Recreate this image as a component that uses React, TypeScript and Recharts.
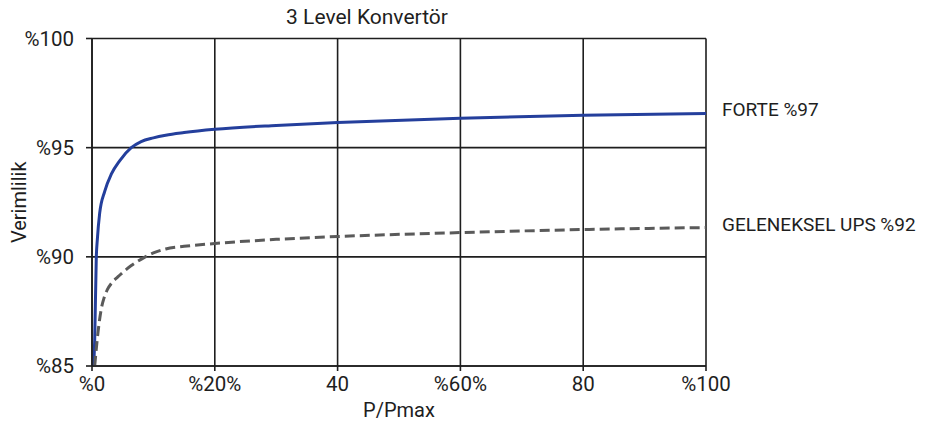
import React from 'react';
import { LineChart, Line, XAxis, YAxis, CartesianGrid, Customized } from 'recharts';

// x ticks and their (odd) labels as printed on the original
const xTicks = [0, 20, 40, 60, 80, 100];
const xTickLabels = ['%0', '%20%', '40', '%60%', '80', '%100'];
const yTicks = [85, 90, 95, 100];
const yTickLabels = ['%85', '%90', '%95', '%100'];

// FORTE (3 level) efficiency curve
const forteLoad = [0.28, 0.44, 0.7, 0.87, 1.25, 2.07, 3.16, 4.5, 6.4, 8, 10, 12, 15, 20, 30, 40, 60, 80, 100];
const forteEff = [85, 86.2, 90, 90.8, 92, 93.0, 93.8, 94.4, 95, 95.28, 95.45, 95.57, 95.69, 95.84, 96.02, 96.15, 96.35, 96.48, 96.57];

// conventional UPS curve
const upsLoad = [0.44, 1.0, 1.5, 2.0, 2.5, 3.2, 4.2, 6.4, 8.4, 10, 12, 15, 20, 30, 40, 60, 80, 100];
const upsEff = [85, 86.6, 87.6, 88.15, 88.5, 88.8, 89.08, 89.6, 89.95, 90.18, 90.36, 90.48, 90.61, 90.8, 90.93, 91.11, 91.25, 91.34];

const seriesNames = ['FORTE %97', 'GELENEKSEL UPS %92'];
const title = '3 Level Konvertör';

const forteData = forteLoad.map((x, i) => ({ x, y: forteEff[i] }));
const upsData = upsLoad.map((x, i) => ({ x, y: upsEff[i] }));

const FONT = 'Roboto, "Noto Sans", sans-serif';
const INK = '#1e1e1e';

const endLabel = (text: string, count: number) => (props: any) => {
  const { x, y, index } = props;
  if (index !== count - 1) return null;
  return (
    <text x={x + 16} y={y + 3} fontSize={19} fontFamily={FONT} fill={INK}>
      {text}
    </text>
  );
};

const Title = () => (
  <text x={367} y={24} textAnchor="middle" fontSize={21} fontFamily={FONT} fill={INK}>
    {title}
  </text>
);

export default function App() {
  return (
    <div style={{ position: 'absolute', left: 0, top: 0, width: 934, height: 423, background: '#fff' }}>
      <LineChart
        width={934}
        height={423}
        margin={{ top: 38.5, right: 228, bottom: 0, left: 0 }}
      >
        <CartesianGrid stroke={INK} strokeWidth={1.6} />
        <XAxis
          type="number"
          dataKey="x"
          domain={[0, 100]}
          ticks={xTicks}
          tickFormatter={(v: number) => xTickLabels[xTicks.indexOf(v)]}
          height={57}
          tickSize={5}
          tickMargin={5}
          stroke={INK}
          strokeWidth={1.6}
          tick={{ fill: INK, fontSize: 20.5, fontFamily: FONT }}
          allowDataOverflow
          label={{ value: 'P/Pmax', position: 'insideBottom', offset: 6, fill: INK, fontSize: 20, fontFamily: FONT }}
        />
        <YAxis
          type="number"
          domain={[85, 100]}
          ticks={yTicks}
          tickFormatter={(v: number) => yTickLabels[yTicks.indexOf(v)]}
          width={92}
          tickSize={6}
          tickMargin={12}
          stroke={INK}
          strokeWidth={1.6}
          tick={{ fill: INK, fontSize: 20.5, fontFamily: FONT }}
          allowDataOverflow
          label={{
            value: 'Verimlilik',
            angle: -90,
            position: 'insideLeft',
            offset: 19,
            fill: INK,
            fontSize: 20,
            fontFamily: FONT,
            style: { textAnchor: 'middle' },
          }}
        />
        <Line
          data={forteData}
          dataKey="y"
          type="monotone"
          stroke="#243f9c"
          strokeWidth={3}
          dot={false}
          isAnimationActive={false}
          label={endLabel(seriesNames[0], forteData.length)}
        />
        <Line
          data={upsData}
          dataKey="y"
          type="monotone"
          stroke="#5a5a5a"
          strokeWidth={3}
          strokeDasharray="10 5"
          dot={false}
          isAnimationActive={false}
          label={endLabel(seriesNames[1], upsData.length)}
        />
        <Customized component={Title} />
      </LineChart>
    </div>
  );
}
